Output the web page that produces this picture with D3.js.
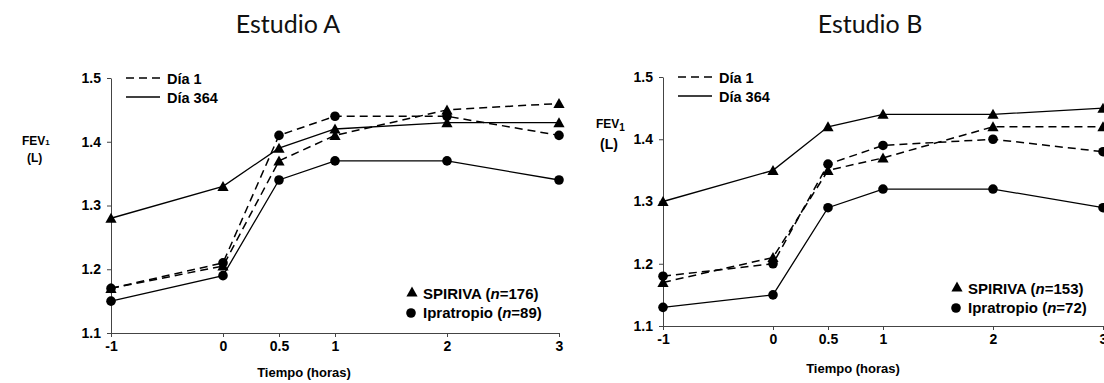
<!DOCTYPE html>
<html>
<head>
<meta charset="utf-8">
<script src="https://cdnjs.cloudflare.com/ajax/libs/d3/7.8.5/d3.min.js"></script>
<style>
  body { margin: 0; background: #fff; }
  svg { display: block; }
</style>
</head>
<body>
<div id="chart"></div>
<script>

// Data
var times = [-1, 0, 0.5, 1, 2, 3];
var xTickLabels = ["-1", "0", "0.5", "1", "2", "3"];
var yTicks = [1.1, 1.2, 1.3, 1.4, 1.5];

// Estudio A
var aSpirivaDia1 = [1.17, 1.205, 1.37, 1.41, 1.45, 1.46];
var aSpirivaDia364 = [1.28, 1.33, 1.39, 1.42, 1.43, 1.43];
var aIpraDia1 = [1.17, 1.21, 1.41, 1.44, 1.44, 1.41];
var aIpraDia364 = [1.15, 1.19, 1.34, 1.37, 1.37, 1.34];

// Estudio B
var bSpirivaDia1 = [1.17, 1.21, 1.35, 1.37, 1.42, 1.42];
var bSpirivaDia364 = [1.30, 1.35, 1.42, 1.44, 1.44, 1.45];
var bIpraDia1 = [1.18, 1.20, 1.36, 1.39, 1.40, 1.38];
var bIpraDia364 = [1.13, 1.15, 1.29, 1.32, 1.32, 1.29];

// Exposed variables
var attrs = {
  svgWidth: 1104,
  svgHeight: 383,
  fontFamily: "'Liberation Sans', Arial, sans-serif",
  titleFont: "Lato, 'Open Sans', sans-serif",
  dash: "8,5"
};

// Panel layouts
var panels = [
  {
    title: "Estudio A", titleX: 288,
    x0: 111, x1: 559, yTop: 78, yBottom: 333,
    fev: { x: 22, y: 145, size: 12, sub: 8, subDy: 0, lx: 27, ly: 162, lsize: 12 },
    legendLine: { x: 126, y: 78 },
    legendMark: { x: 412, y: 292, n1: "176", n2: "89" },
    xTitleX: 304, xTitleY: 377,
    series: [
      { values: aSpirivaDia1, dashed: true, marker: "tri" },
      { values: aIpraDia1, dashed: true, marker: "dot" },
      { values: aSpirivaDia364, dashed: false, marker: "tri" },
      { values: aIpraDia364, dashed: false, marker: "dot" }
    ]
  },
  {
    title: "Estudio B", titleX: 870,
    x0: 663, x1: 1103, yTop: 77, yBottom: 326,
    fev: { x: 596, y: 128, size: 12, sub: 10, subDy: 3, lx: 600, ly: 149, lsize: 14 },
    legendLine: { x: 678, y: 77 },
    legendMark: { x: 957, y: 287, n1: "153", n2: "72" },
    xTitleX: 853, xTitleY: 373,
    series: [
      { values: bSpirivaDia1, dashed: true, marker: "tri" },
      { values: bIpraDia1, dashed: true, marker: "dot" },
      { values: bSpirivaDia364, dashed: false, marker: "tri" },
      { values: bIpraDia364, dashed: false, marker: "dot" }
    ]
  }
];

var triPath = "M0,-5.5L5.6,4.5L-5.6,4.5Z";

//Add svg
var svg = d3.select("#chart").append("svg")
  .attr("width", attrs.svgWidth)
  .attr("height", attrs.svgHeight)
  .style("font-family", attrs.fontFamily);

panels.forEach(function (p) {

  //Scales
  var x = d3.scaleLinear().domain([-1, 3]).range([p.x0, p.x1]);
  var y = d3.scaleLinear().domain([1.1, 1.5]).range([p.yBottom, p.yTop]);

  var g = svg.append("g");

  //Title
  g.append("text")
    .attr("x", p.titleX)
    .attr("y", 33)
    .attr("text-anchor", "middle")
    .style("font-family", attrs.titleFont)
    .style("font-size", "25px")
    .style("fill", "#111")
    .text(p.title);

  //Axes
  var yAxis = g.append("g")
    .attr("transform", "translate(" + p.x0 + ",0)")
    .call(d3.axisLeft(y).tickValues(yTicks).tickSize(4).tickPadding(6)
      .tickSizeOuter(0).tickFormat(d3.format(".1f")));

  var xAxis = g.append("g")
    .attr("transform", "translate(0," + p.yBottom + ")")
    .call(d3.axisBottom(x).tickValues(times).tickSize(4).tickPadding(4)
      .tickSizeOuter(0).tickFormat(function (d, i) { return xTickLabels[i]; }));

  [yAxis, xAxis].forEach(function (a) {
    a.selectAll("path, line").attr("stroke", "#444").attr("stroke-width", 1);
    a.selectAll("text")
      .style("font-size", "14px")
      .style("font-weight", "bold")
      .style("fill", "#000")
      .style("font-family", attrs.fontFamily);
  });

  //Axis titles
  var fev = g.append("text")
    .attr("x", p.fev.x)
    .attr("y", p.fev.y)
    .style("font-size", p.fev.size + "px")
    .style("font-weight", "bold");
  fev.append("tspan").text("FEV");
  fev.append("tspan")
    .attr("dy", p.fev.subDy)
    .style("font-size", p.fev.sub + "px")
    .text("1");

  g.append("text")
    .attr("x", p.fev.lx)
    .attr("y", p.fev.ly)
    .style("font-size", p.fev.lsize + "px")
    .style("font-weight", "bold")
    .text("(L)");

  g.append("text")
    .attr("x", p.xTitleX)
    .attr("y", p.xTitleY)
    .attr("text-anchor", "middle")
    .style("font-size", "13px")
    .style("font-weight", "bold")
    .text("Tiempo (horas)");

  //Lines
  var line = d3.line()
    .x(function (d, i) { return x(times[i]); })
    .y(function (d) { return y(d); });

  g.selectAll(".series-line")
    .data(p.series)
    .enter().append("path")
    .attr("class", "series-line")
    .attr("d", function (s) { return line(s.values); })
    .attr("fill", "none")
    .attr("stroke", "#000")
    .attr("stroke-width", function (s) { return s.dashed ? 1.5 : 1.3; })
    .attr("stroke-dasharray", function (s) { return s.dashed ? attrs.dash : null; });

  //Markers
  p.series.forEach(function (s) {
    var pts = g.selectAll(null)
      .data(s.values)
      .enter();
    if (s.marker === "tri") {
      pts.append("path")
        .attr("d", triPath)
        .attr("transform", function (d, i) { return "translate(" + x(times[i]) + "," + y(d) + ")"; })
        .attr("fill", "#000");
    } else {
      pts.append("circle")
        .attr("cx", function (d, i) { return x(times[i]); })
        .attr("cy", function (d) { return y(d); })
        .attr("r", 4.8)
        .attr("fill", "#000");
    }
  });

  //Line legend
  var ll = p.legendLine;
  [["Día 1", true], ["Día 364", false]].forEach(function (item, i) {
    var yy = ll.y + i * 19;
    g.append("line")
      .attr("x1", ll.x).attr("x2", ll.x + 34)
      .attr("y1", yy).attr("y2", yy)
      .attr("stroke", "#000")
      .attr("stroke-width", item[1] ? 1.5 : 1.3)
      .attr("stroke-dasharray", item[1] ? attrs.dash : null);
    g.append("text")
      .attr("x", ll.x + 41)
      .attr("y", yy + 6)
      .style("font-size", "14.5px")
      .style("font-weight", "bold")
      .text(item[0]);
  });

  //Marker legend
  var lm = p.legendMark;
  g.append("path")
    .attr("d", triPath)
    .attr("transform", "translate(" + lm.x + "," + lm.y + ")")
    .attr("fill", "#000");
  g.append("circle")
    .attr("cx", lm.x - 1).attr("cy", lm.y + 21)
    .attr("r", 4.8)
    .attr("fill", "#000");

  var t1 = g.append("text")
    .attr("x", lm.x + 11).attr("y", lm.y + 7)
    .style("font-size", "15px").style("font-weight", "bold");
  t1.append("tspan").text("SPIRIVA (");
  t1.append("tspan").style("font-style", "italic").text("n");
  t1.append("tspan").text("=" + lm.n1 + ")");

  var t2 = g.append("text")
    .attr("x", lm.x + 11).attr("y", lm.y + 26)
    .style("font-size", "15px").style("font-weight", "bold");
  t2.append("tspan").text("Ipratropio (");
  t2.append("tspan").style("font-style", "italic").text("n");
  t2.append("tspan").text("=" + lm.n2 + ")");
});

</script>
</body>
</html>
